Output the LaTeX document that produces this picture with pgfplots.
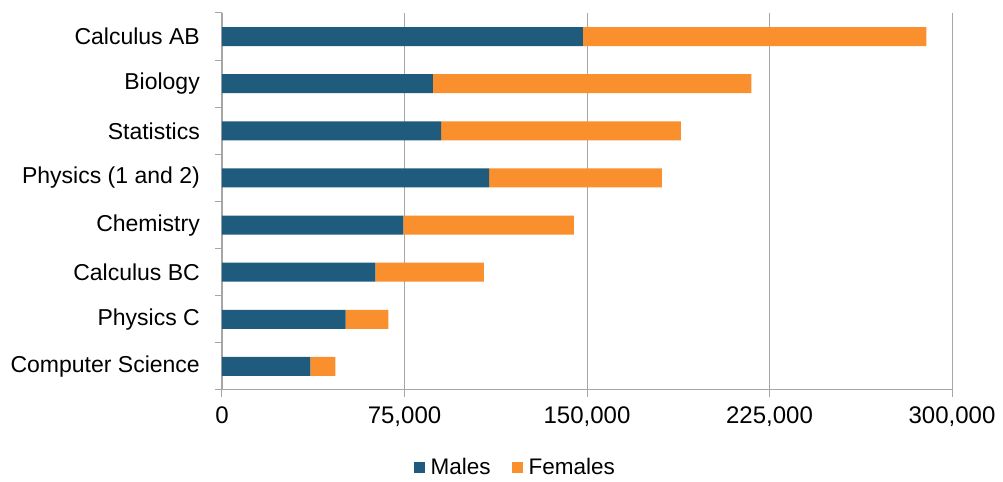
\documentclass[border=0pt]{standalone}
\usepackage{fontspec}
\setmainfont{Liberation Sans}
\usepackage{pgfplots}
\pgfplotsset{compat=1.18}
\definecolor{males}{HTML}{1F5B7D}
\definecolor{females}{HTML}{F98F2D}
\definecolor{gridc}{HTML}{A6A6A6}
\begin{document}
\begin{tikzpicture}
\begin{axis}[
  name=ax,
  xbar stacked,
  scale only axis,
  width=730pt, height=377pt,
  xmin=0, xmax=300000,
  ymin=-0.5, ymax=7.5,
  bar width=19pt,
  axis x line*=bottom, axis y line*=left,
  axis line style={gridc, line width=1pt},
  xmajorgrids,
  major grid style={gridc, line width=0.9pt},
  tick align=outside,
  major tick length=7pt,
  tick style={gridc, line width=1pt},
  xtick={0,75000,150000,225000,300000},
  scaled x ticks=false,
  /pgf/number format/fixed,
  /pgf/number format/1000 sep={,},
  /pgf/number format/assume math mode=true,
  xticklabel style={font=\fontsize{24}{28}\selectfont, yshift=-6pt},
  ytick={-0.5,0.5,1.5,2.5,3.5,4.5,5.5,6.5,7.5},
  yticklabels={},
  extra y ticks={0,1,2,3,4,5,6,7},
  extra y tick labels={Computer Science, Physics C, Calculus BC, Chemistry, {Physics (1 and 2)}, Statistics, Biology, Calculus AB},
  extra y tick style={major tick length=0pt, grid=none, tick label style={font=\fontsize{23}{27}\selectfont, inner sep=0pt, xshift=-22pt}},
  legend style={at={(0.401,-0.205)}, anchor=center, draw=none, legend columns=2,
    font=\fontsize{22.5}{26}\selectfont,
    /tikz/every odd column/.append style={column sep=5pt},
    /tikz/every even column/.append style={column sep=20pt},
    nodes={inner sep=1pt}},
  legend image code/.code={\fill[#1,draw=none] (0pt,-5.5pt) rectangle (11pt,5.5pt);},
]
\addplot[fill=males, draw=none] coordinates {
  (36300,0) (50800,1) (63000,2) (74500,3) (109800,4) (90000,5) (86700,6) (148300,7)};
\addplot[fill=females, draw=none] coordinates {
  (10300,0) (17600,1) (44600,2) (70100,3) (71000,4) (98600,5) (130900,6) (141200,7)};
\legend{Males, Females}
\end{axis}
\pgfresetboundingbox
\path[use as bounding box] ([xshift=-222pt,yshift=-92pt]ax.south west) rectangle ([xshift=51pt,yshift=13pt]ax.north east);
\end{tikzpicture}
\end{document}
